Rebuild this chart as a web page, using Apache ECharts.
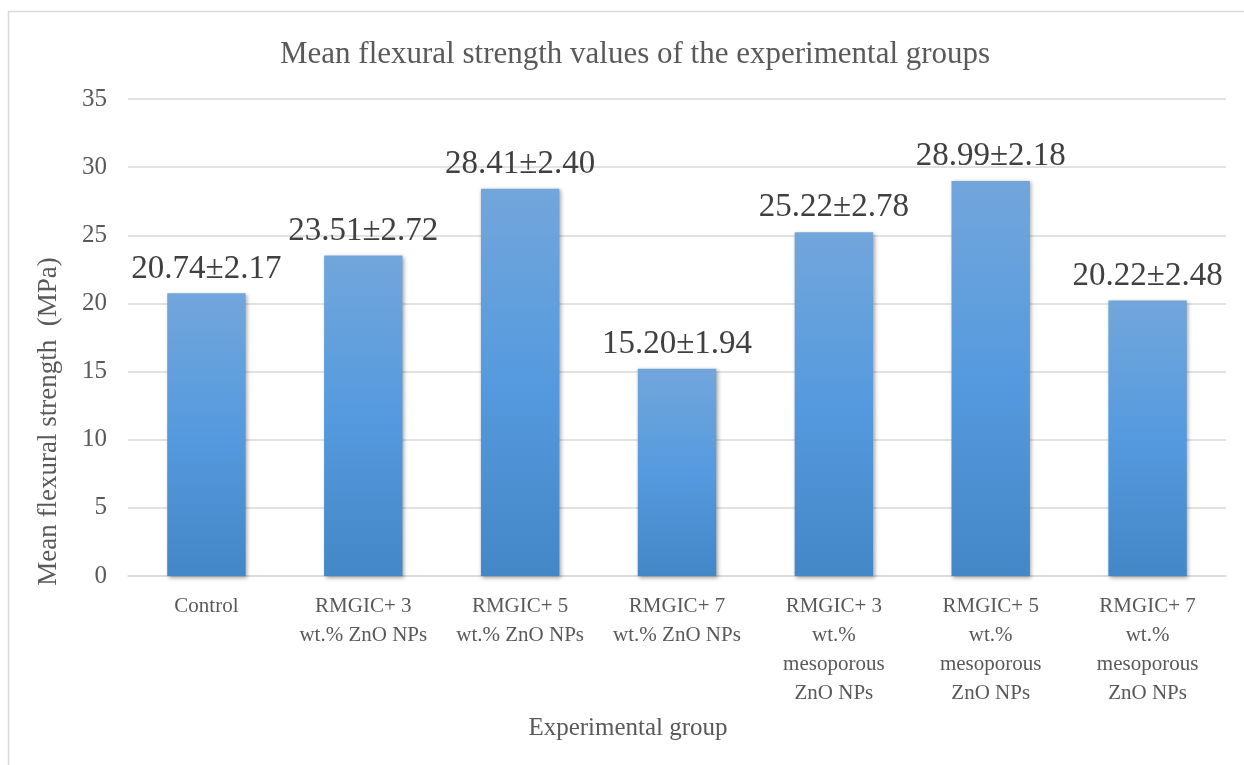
<!DOCTYPE html>
<html>
<head>
<meta charset="utf-8">
<script src="https://cdn.jsdelivr.net/npm/echarts@6/dist/echarts.min.js"></script>
<style>
  body { margin: 0; background: #fff; }
  #chart { width: 1244px; height: 765px; }
</style>
</head>
<body>
<div id="chart"></div>
<script>
// groups on the x axis
var groups = [
  "Control",
  "RMGIC+ 3\nwt.% ZnO NPs",
  "RMGIC+ 5\nwt.% ZnO NPs",
  "RMGIC+ 7\nwt.% ZnO NPs",
  "RMGIC+ 3\nwt.%\nmesoporous\nZnO NPs",
  "RMGIC+ 5\nwt.%\nmesoporous\nZnO NPs",
  "RMGIC+ 7\nwt.%\nmesoporous\nZnO NPs"
];
var means = [20.74, 23.51, 28.41, 15.20, 25.22, 28.99, 20.22];
var sds = [2.17, 2.72, 2.40, 1.94, 2.78, 2.18, 2.48];

var serif = "'Liberation Serif', 'DejaVu Serif', serif";

var chart = echarts.init(document.getElementById("chart"));
chart.setOption({
  backgroundColor: "#fff",
  animation: false,
  title: {
    text: "Mean flexural strength values of the experimental groups",
    left: 275,
    top: 34,
    textStyle: { fontFamily: serif, fontSize: 31, fontWeight: "normal", color: "#595959" }
  },
  graphic: [{
    type: "rect",
    shape: { x: 8.5, y: 11.5, width: 1400, height: 900 },
    style: { fill: "none", stroke: "#d9d9d9", lineWidth: 1.5 },
    silent: true
  }],
  grid: { left: 128, right: 18, top: 99, bottom: 189 },
  xAxis: {
    type: "category",
    data: groups,
    name: "Experimental group",
    nameLocation: "middle",
    nameGap: 140,
    nameTextStyle: { fontFamily: serif, fontSize: 25, color: "#595959", padding: [0, 98, 0, 0] },
    axisLine: { lineStyle: { color: "#d9d9d9", width: 1.5 } },
    axisTick: { show: false },
    axisLabel: { interval: 0, margin: 16, fontFamily: serif, fontSize: 21, lineHeight: 29, color: "#595959" }
  },
  yAxis: {
    type: "value",
    min: 0,
    max: 35,
    interval: 5,
    name: "Mean flexural strength  (MPa)",
    nameLocation: "middle",
    nameGap: 66,
    nameRotate: 90,
    nameTextStyle: { fontFamily: serif, fontSize: 27, color: "#595959", padding: [0, 168, 0, 0] },
    axisLine: { show: false },
    axisTick: { show: false },
    splitLine: { lineStyle: { color: "#d9d9d9", width: 1.5 } },
    axisLabel: { margin: 21, fontFamily: serif, fontSize: 25, color: "#595959" }
  },
  series: [{
    type: "bar",
    data: means,
    barWidth: "50%",
    itemStyle: {
      color: new echarts.graphic.LinearGradient(0, 0, 0, 1, [
        { offset: 0, color: "#72a6db" },
        { offset: 0.5, color: "#559ade" },
        { offset: 1, color: "#4487c7" }
      ]),
      shadowColor: "rgba(0,0,0,0.35)",
      shadowBlur: 4,
      shadowOffsetX: 1.5,
      shadowOffsetY: 1.5
    },
    label: {
      show: true,
      position: "top",
      distance: 8,
      fontFamily: serif,
      fontSize: 33,
      color: "#404040",
      formatter: function (p) {
        return means[p.dataIndex].toFixed(2) + "\u00b1" + sds[p.dataIndex].toFixed(2);
      }
    }
  }]
});
</script>
</body>
</html>
